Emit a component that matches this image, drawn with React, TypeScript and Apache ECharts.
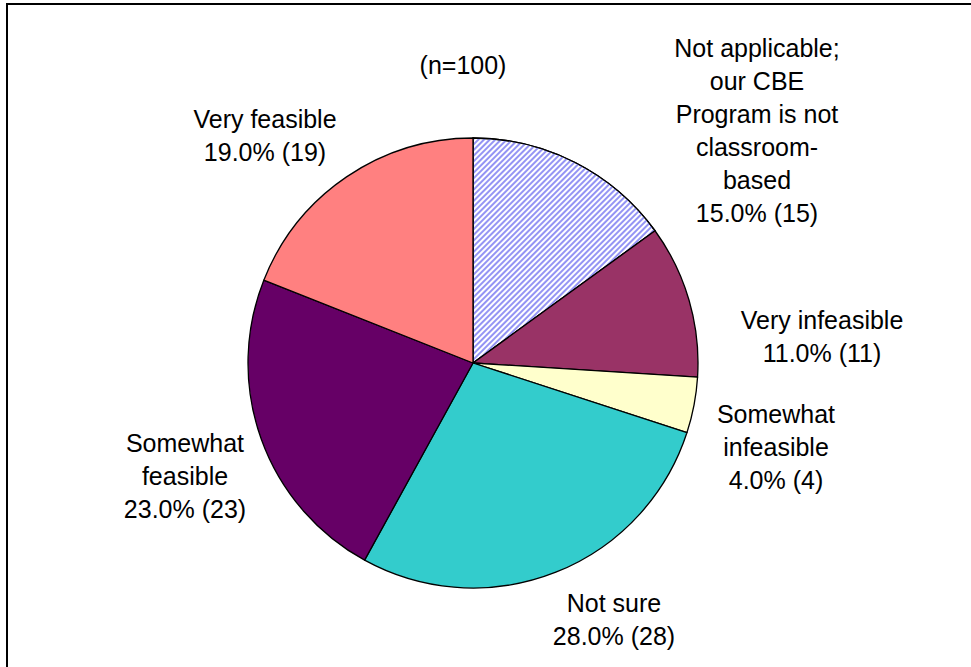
import React, { useEffect, useRef } from "react";
import * as echarts from "echarts";

const categories = [
  "Not applicable;\nour CBE\nProgram is not\nclassroom-\nbased",
  "Very infeasible",
  "Somewhat\ninfeasible",
  "Not sure",
  "Somewhat\nfeasible",
  "Very feasible",
];
const counts = [15, 11, 4, 28, 23, 19];
const colors = ["#ffffff", "#993366", "#ffffcc", "#33cccc", "#660066", "#ff8080"];
const sampleNote = "(n=100)";

// label anchor positions (styling only)
const labelPos: [number, number][] = [
  [757, 130],
  [822, 336],
  [776, 447],
  [614, 619],
  [185, 476],
  [265, 135],
];

export default function App() {
  const ref = useRef<HTMLDivElement>(null);
  useEffect(() => {
    const chart = echarts.init(ref.current!, undefined, { renderer: "svg" });
    const data = categories.map((name, i) => ({
      name,
      value: counts[i],
      itemStyle:
        i === 0
          ? {
              color: "#ffffff",
              decal: {
                symbol: "rect",
                symbolSize: 1,
                color: "#9494f4",
                dashArrayX: [1, 0],
                dashArrayY: [2, 2],
                rotation: -Math.PI / 4,
              },
            }
          : { color: colors[i] },
    }));
    chart.setOption({
      animation: false,
      backgroundColor: "#ffffff",
      graphic: [
        {
          type: "rect",
          shape: { x: 7, y: 4, width: 1200, height: 1200 },
          style: { fill: "none", stroke: "#000", lineWidth: 2 },
          silent: true,
        },
        {
          type: "text",
          x: 463,
          y: 65,
          style: {
            text: sampleNote,
            font: "25px 'Liberation Sans', Arial, sans-serif",
            fill: "#000",
            align: "center",
            verticalAlign: "middle",
          },
        },
      ],
      series: [
        {
          type: "pie",
          center: [473, 363],
          radius: 225,
          startAngle: 90,
          clockwise: true,
          data,
          itemStyle: { borderColor: "#000", borderWidth: 1.3 },
          label: {
            show: true,
            position: "outside",
            color: "#000",
            fontFamily: "'Liberation Sans', Arial, sans-serif",
            fontSize: 25,
            lineHeight: 33,
            align: "center",
            formatter: (p: any) => `${p.name}\n${p.percent.toFixed(1)}% (${p.value})`,
          },
          labelLine: { show: false },
          labelLayout: (params: any) => ({
            x: labelPos[params.dataIndex][0],
            y: labelPos[params.dataIndex][1],
            align: "center",
            verticalAlign: "middle",
          }),
          emphasis: { disabled: true },
        },
      ],
    });
    return () => chart.dispose();
  }, []);
  return (
    <div
      ref={ref}
      style={{ position: "fixed", left: 0, top: 0, width: 971, height: 667 }}
    />
  );
}
